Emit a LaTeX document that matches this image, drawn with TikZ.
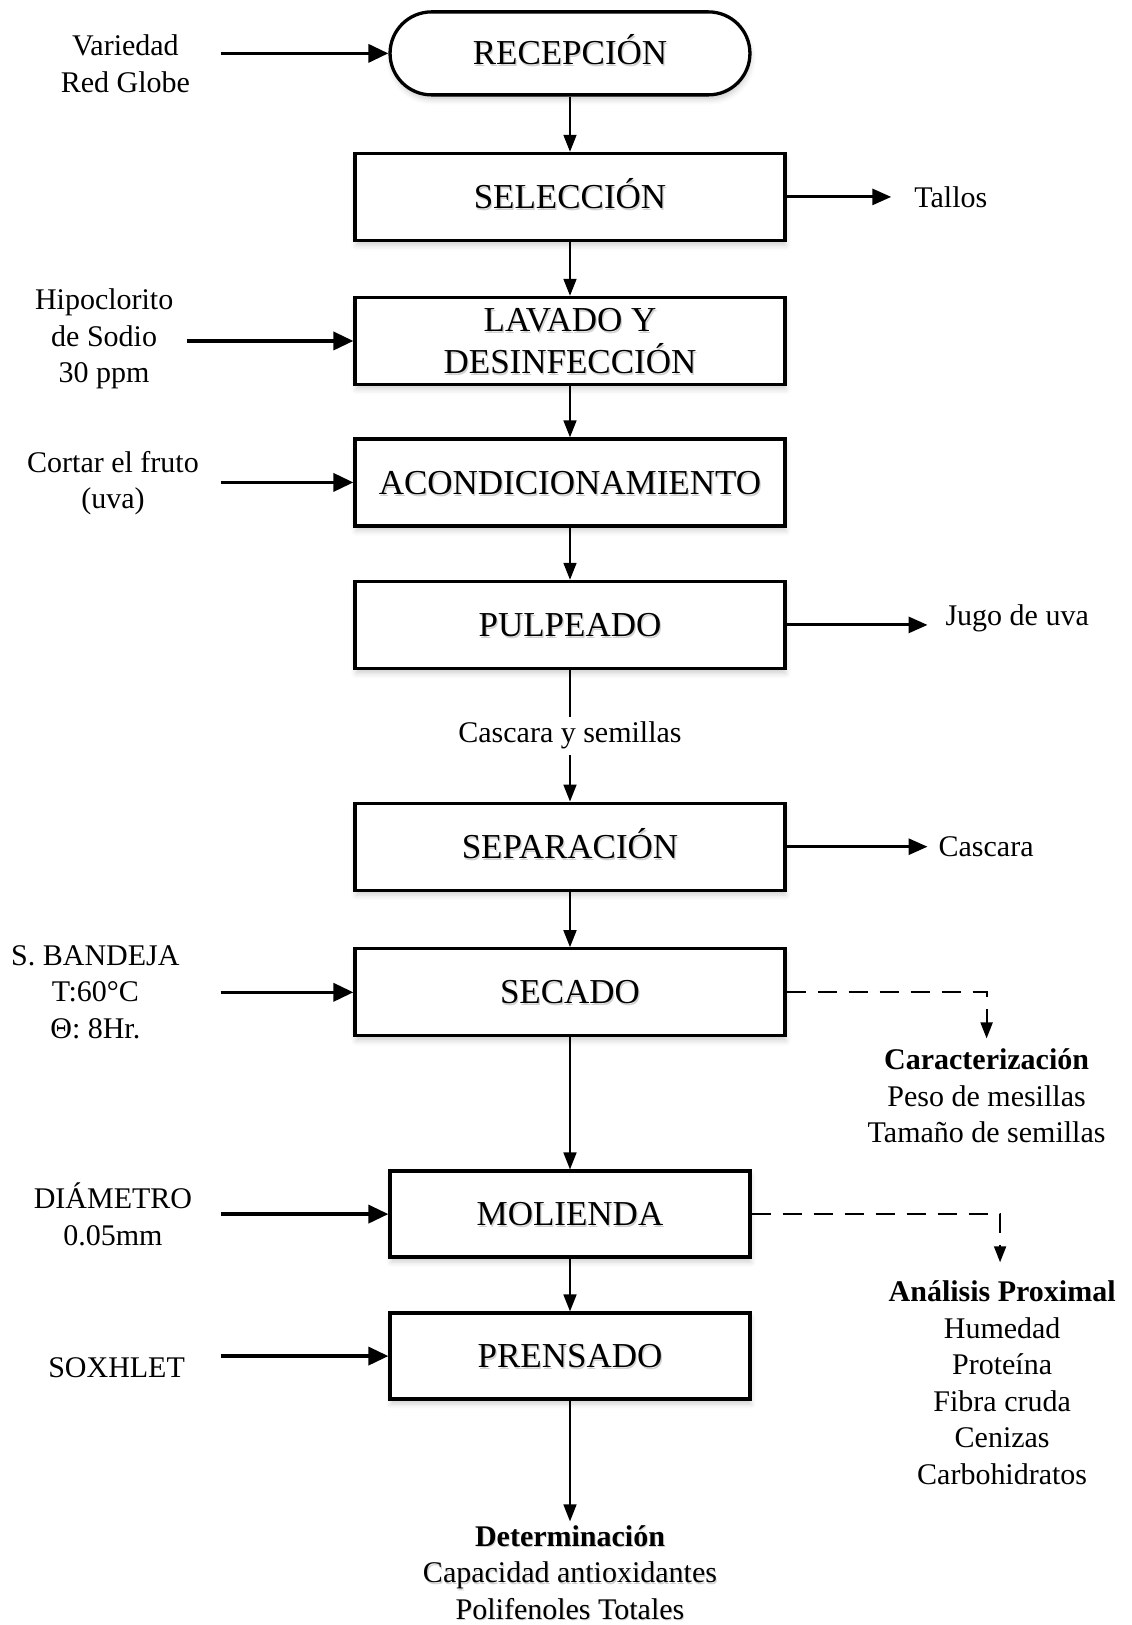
\documentclass[tikz,border=0pt]{standalone}
\usepackage{fontspec}
\setmainfont{Liberation Serif}
\usetikzlibrary{shapes.misc,arrows.meta,shadows.blur}

\newcommand\boxfont{\fontsize{35}{41.5}\selectfont}
\newcommand\notefont{\fontsize{30}{36.5}\selectfont}

\tikzset{
  stage/.style={draw, line width=3.3pt, minimum width=430pt, minimum height=87pt,
    fill=white, inner sep=0pt,
    blur shadow={shadow xshift=1pt, shadow yshift=-5pt, shadow opacity=18, shadow blur radius=5pt}},
  shortstage/.style={stage, minimum width=360pt, minimum height=86pt},
  terminal/.style={stage, rounded rectangle, minimum width=360pt, minimum height=83pt},
  boxtext/.style={font=\boxfont, align=center, inner sep=0pt, text height=23.2pt, text depth=0pt},
  boxtextml/.style={font=\boxfont, align=center, inner sep=0pt},
  shade/.style={text=black!18},
  note/.style={font=\notefont, align=center, inner sep=0pt},
  flow/.style={line width=1.7pt, -{Triangle[length=17pt,width=13pt]}},
  feed/.style={line width=3.6pt, -{Triangle[length=20pt,width=18pt]}},
  waste/.style={line width=3pt, -{Triangle[length=19pt,width=16pt]}},
  sample/.style={line width=2pt, dash pattern=on 19pt off 12pt, -{Triangle[length=16pt,width=12pt]}},
}

% process box with a soft text shadow
\newcommand\stagenode[4]{%
  \node[#1] (#2) at #3 {};
  \node[boxtext, shade] (#2-shade) at ([shift={(1.2pt,-2pt)}]#2.center) {#4};
  \node[boxtext] (#2-text) at (#2.center) {#4};
}

\begin{document}
\begin{tikzpicture}[x=1.0366pt, y=-1.0366pt]
\useasboundingbox (0,0) rectangle (1092,1568);

% main process line
\stagenode{terminal}{recep}{(550,51.5)}{RECEPCIÓN}
\stagenode{stage}{selec}{(550,190)}{SELECCIÓN}
\node[stage] (lavado) at (550,329) {};
\node[boxtextml, shade] (lavado-shade) at ([shift={(1.2pt,-2pt)}]lavado.center) {LAVADO Y\\DESINFECCIÓN};
\node[boxtextml] (lavado-text) at (lavado.center) {LAVADO Y\\DESINFECCIÓN};
\stagenode{stage}{acond}{(550,465.5)}{ACONDICIONAMIENTO}
\stagenode{stage}{pulp}{(550,603)}{PULPEADO}
\stagenode{stage}{sep}{(550,817)}{SEPARACIÓN}
\stagenode{stage}{secado}{(550,957.5)}{SECADO}
\stagenode{shortstage}{mol}{(550,1171.5)}{MOLIENDA}
\stagenode{shortstage}{pren}{(550,1308.5)}{PRENSADO}

% vertical flow
\draw[flow] (recep) -- (selec);
\draw[flow] (selec) -- (lavado);
\draw[flow] (lavado) -- (acond);
\draw[flow] (acond) -- (pulp);
\draw[flow] (pulp) -- (sep);
\node[note, fill=white, inner xsep=3pt, inner ysep=5.5pt] (cys) at (550,710) {Cascara y semillas};
\draw[flow] (sep) -- (secado);
\draw[flow] (secado) -- (mol);
\draw[flow] (mol) -- (pren);
\coordinate (detIn) at (550,1468);
\draw[flow] (pren) -- (detIn);

% inputs on the left
\node[note] (variedad) at (121,61.5) {Variedad\\Red Globe};
\node[note] (hipo) at (100.5,327) {Hipoclorito\\de Sodio\\30 ppm};
\node[note] (cortar) at (109,466) {Cortar el fruto\\(uva)};
\node[note] (bandeja) at (92,957) {S. BANDEJA\\T:60°C\\Θ: 8Hr.};
\node[note] (diam) at (109,1171.5) {DIÁMETRO\\0.05mm};
\node[note] (soxhlet) at (112.5,1320) {SOXHLET};

\coordinate (inRecep) at (213,51.5);
\coordinate (inLav) at (180,329);
\coordinate (inAcond) at (213,465.5);
\coordinate (inSec) at (213,957.5);
\coordinate (inMol) at (213,1171.5);
\coordinate (inPren) at (213,1308.5);
\draw[feed] (inRecep) -- (recep.west);
\draw[feed] (inLav) -- (lavado.west);
\draw[feed] (inAcond) -- (acond.west);
\draw[feed] (inSec) -- (secado.west);
\draw[feed] (inMol) -- (mol.west);
\draw[feed] (inPren) -- (pren.west);

% outputs on the right
\coordinate (outSel) at (860,190);
\coordinate (outPulp) at (895,603);
\coordinate (outSep) at (895,817);
\draw[waste] (selec.east) -- (outSel);
\draw[waste] (pulp.east) -- (outPulp);
\draw[waste] (sep.east) -- (outSep);
\node[note] (tallos) at (917.5,190) {Tallos};
\node[note] (jugo) at (981.5,597) {Jugo de uva};
\node[note] (cascara) at (951.5,817) {Cascara};

% analyses
\coordinate (carIn) at (952,1002);
\coordinate (anaIn) at (965,1218);
\draw[sample] (secado.east) -| (carIn);
\draw[sample] (mol.east) -| (anaIn);
\node[note] (carac) at (952,1057.5) {\textbf{Caracterización}\\Peso de mesillas\\Tamaño de semillas};
\node[note] (anal) at (967,1334) {\textbf{Análisis Proximal}\\Humedad\\Proteína\\Fibra cruda\\Cenizas\\Carbohidratos};
\node[note, shade] (det-shade) at ([shift={(1pt,-1.5pt)}]550,1517.5) {\textbf{Determinación}\\Capacidad antioxidantes\\Polifenoles Totales};
\node[note] (det) at (550,1517.5) {\textbf{Determinación}\\Capacidad antioxidantes\\Polifenoles Totales};
\end{tikzpicture}
\end{document}
